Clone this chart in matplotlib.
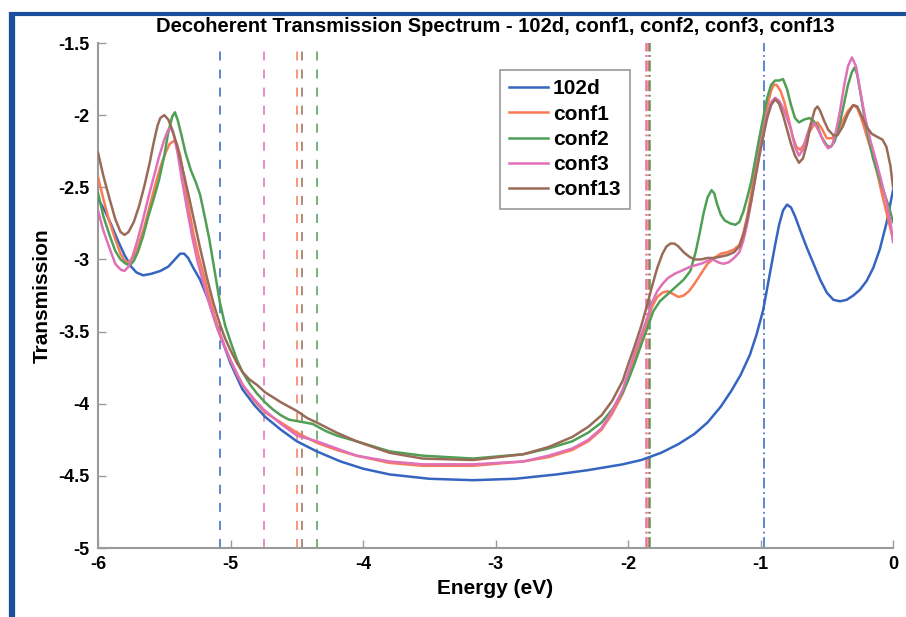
import numpy as np
import matplotlib.pyplot as plt
from matplotlib.lines import Line2D

# transmission curves (log scale values), energy in eV
x_102d = [-6.00, -5.95, -5.90, -5.85, -5.80, -5.75, -5.71, -5.66, -5.60, -5.53, -5.47, -5.42, -5.38, -5.35,
          -5.32, -5.28, -5.23, -5.15, -5.08, -5.00, -4.91, -4.82, -4.74, -4.62, -4.50, -4.35, -4.17, -4.00,
          -3.80, -3.50, -3.17, -2.85, -2.54, -2.30, -2.04, -1.90, -1.75, -1.62, -1.50, -1.40, -1.30, -1.22,
          -1.15, -1.08, -1.03, -0.98, -0.95, -0.92, -0.89, -0.86, -0.83, -0.80, -0.77, -0.74, -0.70, -0.65,
          -0.60, -0.55, -0.50, -0.45, -0.40, -0.35, -0.30, -0.25, -0.20, -0.15, -0.10, -0.05, 0.00]
y_102d = [-2.58, -2.66, -2.76, -2.87, -2.97, -3.05, -3.09, -3.11, -3.10, -3.08, -3.05, -3.00, -2.96, -2.96,
          -2.99, -3.06, -3.14, -3.32, -3.52, -3.72, -3.90, -4.01, -4.09, -4.18, -4.26, -4.33, -4.40, -4.45,
          -4.49, -4.52, -4.53, -4.52, -4.49, -4.46, -4.42, -4.39, -4.34, -4.28, -4.21, -4.13, -4.02, -3.91,
          -3.80, -3.66, -3.52, -3.35, -3.20, -3.05, -2.90, -2.76, -2.66, -2.62, -2.64, -2.70, -2.80, -2.92,
          -3.03, -3.14, -3.23, -3.28, -3.29, -3.28, -3.25, -3.21, -3.15, -3.06, -2.93, -2.75, -2.52]

x_conf1 = [-6.00, -5.96, -5.92, -5.87, -5.83, -5.80, -5.77, -5.73, -5.69, -5.65, -5.61, -5.57, -5.53, -5.49,
           -5.46, -5.43, -5.41, -5.38, -5.35, -5.32, -5.28, -5.24, -5.20, -5.15, -5.10, -5.05, -5.00, -4.95,
           -4.90, -4.82, -4.74, -4.62, -4.50, -4.35, -4.20, -4.05, -3.80, -3.55, -3.17, -2.79, -2.60, -2.42,
           -2.30, -2.20, -2.12, -2.04, -2.00, -1.95, -1.90, -1.86, -1.82, -1.78, -1.74, -1.70, -1.66, -1.62,
           -1.58, -1.54, -1.50, -1.45, -1.40, -1.35, -1.30, -1.25, -1.20, -1.16, -1.13, -1.10, -1.07, -1.04,
           -1.01, -0.98, -0.95, -0.92, -0.90, -0.88, -0.85, -0.82, -0.79, -0.76, -0.73, -0.70, -0.67, -0.64,
           -0.60, -0.57, -0.54, -0.50, -0.46, -0.42, -0.38, -0.34, -0.30, -0.27, -0.24, -0.20, -0.16, -0.12,
           -0.08, -0.04, 0.00]
y_conf1 = [-2.43, -2.58, -2.72, -2.86, -2.96, -3.01, -3.02, -2.98, -2.89, -2.77, -2.63, -2.49, -2.36, -2.26,
           -2.20, -2.18, -2.19, -2.28, -2.44, -2.62, -2.82, -2.98, -3.12, -3.30, -3.46, -3.59, -3.70, -3.80,
           -3.88, -3.98, -4.06, -4.13, -4.20, -4.27, -4.32, -4.36, -4.41, -4.43, -4.43, -4.40, -4.37, -4.32,
           -4.26, -4.18, -4.07, -3.93, -3.83, -3.68, -3.55, -3.44, -3.33, -3.26, -3.23, -3.22, -3.24, -3.26,
           -3.25, -3.22, -3.17, -3.10, -3.03, -2.99, -2.96, -2.95, -2.93, -2.90, -2.82, -2.70, -2.54, -2.37,
           -2.22, -2.08, -1.94, -1.83, -1.79, -1.79, -1.83, -1.91, -2.02, -2.14, -2.22, -2.24, -2.20, -2.13,
           -2.07, -2.05, -2.09, -2.16, -2.16, -2.12, -2.04, -1.97, -1.93, -1.95, -2.02, -2.14, -2.26, -2.40,
           -2.56, -2.71, -2.86]

x_conf2 = [-6.00, -5.96, -5.91, -5.87, -5.83, -5.79, -5.76, -5.73, -5.70, -5.66, -5.62, -5.58, -5.54, -5.50,
           -5.47, -5.44, -5.42, -5.40, -5.37, -5.34, -5.30, -5.26, -5.23, -5.20, -5.16, -5.12, -5.08, -5.04,
           -5.00, -4.95, -4.91, -4.85, -4.80, -4.74, -4.68, -4.62, -4.56, -4.50, -4.44, -4.38, -4.34, -4.28,
           -4.20, -4.05, -3.80, -3.55, -3.17, -2.79, -2.60, -2.42, -2.30, -2.20, -2.12, -2.04, -2.00, -1.95,
           -1.90, -1.86, -1.81, -1.76, -1.70, -1.64, -1.58, -1.53, -1.49, -1.46, -1.43, -1.40, -1.37, -1.35,
           -1.33, -1.30, -1.27, -1.23, -1.19, -1.16, -1.13, -1.10, -1.07, -1.04, -1.01, -0.98, -0.95, -0.92,
           -0.89, -0.86, -0.83, -0.80, -0.77, -0.74, -0.71, -0.67, -0.63, -0.60, -0.57, -0.54, -0.50, -0.47,
           -0.44, -0.40, -0.37, -0.34, -0.31, -0.29, -0.27, -0.24, -0.21, -0.18, -0.15, -0.11, -0.07, -0.03,
           0.00]
y_conf2 = [-2.54, -2.70, -2.84, -2.94, -3.00, -3.03, -3.04, -3.01, -2.95, -2.84, -2.70, -2.58, -2.45, -2.28,
           -2.12, -2.01, -1.98, -2.03, -2.14, -2.26, -2.38, -2.47, -2.55, -2.68, -2.86, -3.08, -3.30, -3.46,
           -3.57, -3.70, -3.78, -3.87, -3.93, -3.99, -4.04, -4.08, -4.11, -4.12, -4.13, -4.14, -4.16, -4.19,
           -4.22, -4.26, -4.33, -4.36, -4.38, -4.35, -4.31, -4.26, -4.20, -4.13, -4.04, -3.92, -3.84, -3.72,
           -3.59, -3.49, -3.36, -3.29, -3.24, -3.19, -3.14, -3.08, -2.95, -2.82, -2.68, -2.57, -2.52, -2.54,
           -2.61, -2.69, -2.73, -2.75, -2.76, -2.74, -2.67, -2.57, -2.46, -2.31, -2.16, -2.02, -1.88, -1.79,
           -1.76, -1.76, -1.75, -1.82, -1.93, -2.02, -2.05, -2.03, -2.02, -2.04, -2.08, -2.15, -2.21, -2.22,
           -2.18, -2.05, -1.92, -1.79, -1.70, -1.67, -1.72, -1.88, -2.05, -2.18, -2.30, -2.42, -2.53, -2.64,
           -2.74]

x_conf3 = [-6.00, -5.96, -5.91, -5.87, -5.83, -5.80, -5.77, -5.74, -5.70, -5.66, -5.62, -5.58, -5.54, -5.50,
           -5.47, -5.45, -5.43, -5.40, -5.37, -5.33, -5.29, -5.25, -5.20, -5.15, -5.10, -5.00, -4.91, -4.82,
           -4.75, -4.62, -4.50, -4.35, -4.20, -4.05, -3.80, -3.55, -3.17, -2.79, -2.60, -2.42, -2.30, -2.20,
           -2.12, -2.04, -2.00, -1.95, -1.90, -1.86, -1.82, -1.78, -1.74, -1.70, -1.65, -1.60, -1.53, -1.45,
           -1.40, -1.36, -1.32, -1.28, -1.24, -1.20, -1.16, -1.13, -1.10, -1.07, -1.04, -1.01, -0.98, -0.95,
           -0.92, -0.89, -0.86, -0.83, -0.80, -0.77, -0.74, -0.71, -0.68, -0.65, -0.62, -0.59, -0.56, -0.52,
           -0.49, -0.46, -0.43, -0.40, -0.37, -0.34, -0.31, -0.28, -0.25, -0.21, -0.17, -0.13, -0.09, -0.05,
           -0.02, 0.00]
y_conf3 = [-2.66, -2.80, -2.93, -3.03, -3.07, -3.08, -3.05, -2.98, -2.86, -2.72, -2.57, -2.43, -2.29, -2.17,
           -2.10, -2.09, -2.13, -2.26, -2.43, -2.64, -2.84, -3.01, -3.18, -3.34, -3.48, -3.70, -3.87, -3.97,
           -4.04, -4.14, -4.22, -4.26, -4.31, -4.36, -4.40, -4.42, -4.42, -4.40, -4.36, -4.31, -4.25, -4.17,
           -4.05, -3.90, -3.79, -3.65, -3.52, -3.42, -3.30, -3.22, -3.17, -3.13, -3.10, -3.08, -3.05, -3.03,
           -3.01, -3.00, -3.02, -3.03, -3.02, -2.99, -2.95, -2.87, -2.75, -2.60, -2.43, -2.27, -2.12, -1.99,
           -1.91, -1.88, -1.90, -1.95, -2.02, -2.10, -2.22, -2.28, -2.24, -2.14, -2.06, -2.06, -2.11, -2.19,
           -2.23, -2.21, -2.11, -1.97, -1.80, -1.66, -1.60, -1.66, -1.82, -2.02, -2.18, -2.31, -2.45, -2.60,
           -2.74, -2.88]

x_conf13 = [-6.00, -5.96, -5.91, -5.87, -5.83, -5.80, -5.77, -5.73, -5.69, -5.65, -5.61, -5.58, -5.55, -5.53,
            -5.50, -5.47, -5.44, -5.40, -5.36, -5.32, -5.28, -5.23, -5.18, -5.13, -5.08, -5.04, -5.00, -4.95,
            -4.91, -4.86, -4.80, -4.74, -4.62, -4.50, -4.42, -4.35, -4.20, -4.05, -3.80, -3.55, -3.17, -2.79,
            -2.60, -2.42, -2.30, -2.20, -2.12, -2.04, -2.00, -1.95, -1.90, -1.86, -1.82, -1.78, -1.74, -1.71,
            -1.68, -1.65, -1.62, -1.58, -1.54, -1.50, -1.45, -1.40, -1.35, -1.30, -1.25, -1.20, -1.16, -1.13,
            -1.10, -1.07, -1.04, -1.01, -0.98, -0.95, -0.92, -0.89, -0.86, -0.83, -0.80, -0.77, -0.74, -0.71,
            -0.68, -0.65, -0.62, -0.59, -0.57, -0.55, -0.52, -0.49, -0.45, -0.42, -0.38, -0.34, -0.30, -0.27,
            -0.24, -0.20, -0.16, -0.12, -0.08, -0.05, -0.02, 0.00]
y_conf13 = [-2.26, -2.42, -2.59, -2.72, -2.81, -2.83, -2.81, -2.74, -2.63, -2.49, -2.33, -2.19, -2.07, -2.02,
            -2.00, -2.03, -2.10, -2.22, -2.38, -2.54, -2.71, -2.92, -3.12, -3.30, -3.45, -3.55, -3.63, -3.72,
            -3.78, -3.83, -3.87, -3.92, -3.99, -4.05, -4.10, -4.13, -4.20, -4.26, -4.34, -4.38, -4.39, -4.35,
            -4.30, -4.23, -4.16, -4.08, -3.98, -3.84, -3.73, -3.60, -3.46, -3.33, -3.19, -3.06, -2.96, -2.91,
            -2.89, -2.89, -2.91, -2.95, -2.98, -3.00, -3.00, -2.99, -2.99, -2.98, -2.97, -2.95, -2.91, -2.83,
            -2.72, -2.59, -2.44, -2.29, -2.15, -2.02, -1.93, -1.89, -1.92, -2.00, -2.10, -2.20, -2.28, -2.33,
            -2.30, -2.20, -2.06, -1.96, -1.94, -1.97, -2.04, -2.10, -2.14, -2.14, -2.08, -1.99, -1.93, -1.94,
            -2.00, -2.08, -2.13, -2.15, -2.17, -2.22, -2.35, -2.50]

# orbital energies: dashed (left group) and dash-dot (right group)
homo = {'102d': -5.08, 'conf1': -4.50, 'conf2': -4.35, 'conf3': -4.75, 'conf13': -4.46}
lumo = {'102d': -0.975, 'conf1': -1.855, 'conf2': -1.835, 'conf3': -1.862, 'conf13': -1.845}

names = ['102d', 'conf1', 'conf2', 'conf3', 'conf13']
colors = {'102d': '#3565c0', 'conf1': '#f97b55', 'conf2': '#4f9f55',
          'conf3': '#e070b8', 'conf13': '#9a6b58'}
curves = {'102d': (x_102d, y_102d), 'conf1': (x_conf1, y_conf1), 'conf2': (x_conf2, y_conf2),
          'conf3': (x_conf3, y_conf3), 'conf13': (x_conf13, y_conf13)}

plt.rcParams['font.family'] = ['Liberation Sans', 'DejaVu Sans']

fig = plt.figure(figsize=(9.06, 6.17), dpi=100)
ax = fig.add_axes([0.1082, 0.1118, 0.8775, 0.8185])

for n in names:
    ax.axvline(homo[n], color=colors[n], ls=(0, (5, 5)), lw=1.3, alpha=0.85, zorder=1)
    ax.axvline(lumo[n], color=colors[n], ls=(0, (6, 2, 1, 2)), lw=1.3, alpha=0.85, zorder=1)

for n in names:
    xs, ys = curves[n]
    ax.plot(xs, ys, color=colors[n], lw=1.8, label=n, zorder=3)

ax.set_xlim(-6, 0)
ax.set_ylim(-5, -1.5)
ax.set_xticks(np.arange(-6, 0.5, 1))
ax.set_yticks(np.arange(-5, -1.4, 0.5))
ax.set_xticklabels(['-6', '-5', '-4', '-3', '-2', '-1', '0'])
ax.set_yticklabels(['-5', '-4.5', '-4', '-3.5', '-3', '-2.5', '-2', '-1.5'])
for s in ['top', 'right']:
    ax.spines[s].set_visible(False)
for s in ['left', 'bottom']:
    ax.spines[s].set_color('#9a9a9a')
    ax.spines[s].set_linewidth(1.5)
ax.tick_params(direction='in', length=6, color='#9a9a9a', width=1, labelsize=13, pad=6)
for lab in ax.get_xticklabels() + ax.get_yticklabels():
    lab.set_fontweight('bold')

ax.set_xlabel('Energy (eV)', fontsize=15, fontweight='bold', labelpad=4)
ax.set_ylabel('Transmission', fontsize=15, fontweight='bold', labelpad=5)
ax.set_title('Decoherent Transmission Spectrum - 102d, conf1, conf2, conf3, conf13',
             fontsize=14.5, fontweight='bold', pad=8)

leg = ax.legend(loc='upper left', bbox_to_anchor=(0.505, 0.9465),
                prop={'weight': 'bold', 'size': 15},
                fancybox=False, edgecolor='#808080', handlelength=1.9, handletextpad=0.2,
                labelspacing=0.3, borderpad=0.45, borderaxespad=0)
leg.get_frame().set_linewidth(1.2)

# blue page frame on the left and top
frame = '#1b4f9c'
fig.add_artist(Line2D([12 / 906, 12 / 906], [0, 1 - 12 / 617], color=frame, lw=4.5,
                      transform=fig.transFigure, solid_capstyle='butt'))
fig.add_artist(Line2D([10 / 906, 1], [1 - 13.5 / 617, 1 - 13.5 / 617], color=frame, lw=3,
                      transform=fig.transFigure, solid_capstyle='butt'))

fig.savefig('out.png', dpi=100)
